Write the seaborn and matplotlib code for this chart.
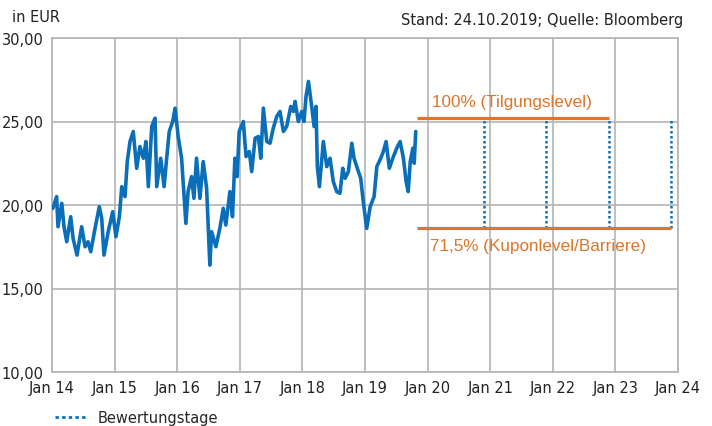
import matplotlib
matplotlib.use("Agg")
import matplotlib.pyplot as plt
from matplotlib.lines import Line2D
from matplotlib.ticker import FuncFormatter
import seaborn as sns
import pandas as pd

# ---- data ----
price_dates = [
    "2014-01-06", "2014-01-28", "2014-02-05", "2014-02-27", "2014-03-12", "2014-03-28",
    "2014-04-20", "2014-05-04", "2014-05-27", "2014-06-23", "2014-07-13", "2014-07-30",
    "2014-08-15", "2014-09-09", "2014-10-04", "2014-10-18", "2014-10-31", "2014-11-25",
    "2014-12-21", "2015-01-09", "2015-01-29", "2015-02-12", "2015-03-03", "2015-03-16",
    "2015-04-01", "2015-04-20", "2015-05-10", "2015-05-29", "2015-06-18", "2015-07-03",
    "2015-07-17", "2015-08-06", "2015-08-25", "2015-09-04", "2015-09-27", "2015-10-17",
    "2015-11-01", "2015-11-16", "2015-12-06", "2015-12-20", "2016-01-07", "2016-01-27",
    "2016-02-21", "2016-03-05", "2016-03-25", "2016-04-08", "2016-04-23", "2016-05-13",
    "2016-06-01", "2016-06-21", "2016-07-10", "2016-07-20", "2016-08-14", "2016-09-06",
    "2016-09-26", "2016-10-11", "2016-11-04", "2016-11-19", "2016-12-03", "2016-12-16",
    "2016-12-28", "2017-01-21", "2017-02-06", "2017-02-25", "2017-03-11", "2017-03-31",
    "2017-04-19", "2017-05-03", "2017-05-18", "2017-06-07", "2017-06-26", "2017-07-15",
    "2017-08-04", "2017-08-23", "2017-09-12", "2017-10-01", "2017-10-25", "2017-11-09",
    "2017-11-19", "2017-12-08", "2017-12-28", "2018-01-10", "2018-01-22", "2018-02-05",
    "2018-02-24", "2018-03-10", "2018-03-21", "2018-03-29", "2018-04-10", "2018-05-03",
    "2018-05-23", "2018-06-11", "2018-06-30", "2018-07-20", "2018-08-08", "2018-08-24",
    "2018-09-07", "2018-09-26", "2018-10-16", "2018-10-29", "2018-11-17", "2018-12-07",
    "2018-12-22", "2019-01-11", "2019-01-31", "2019-02-23", "2019-03-11", "2019-04-03",
    "2019-04-18", "2019-05-04", "2019-05-23", "2019-06-12", "2019-07-05", "2019-07-25",
    "2019-08-13", "2019-08-29", "2019-09-10", "2019-09-22", "2019-10-07", "2019-10-15",
    "2019-10-24",
]
price_values = [
    19.8, 20.5, 18.7, 20.1, 18.7, 17.8,
    19.3, 18.0, 17.0, 18.7, 17.5, 17.8,
    17.2, 18.6, 19.9, 19.2, 17.0, 18.4,
    19.6, 18.1, 19.3, 21.1, 20.5, 22.6,
    23.8, 24.4, 22.2, 23.5, 22.8, 23.8,
    21.1, 24.7, 25.2, 21.1, 22.8, 21.1,
    22.8, 24.4, 25.0, 25.8, 24.1, 22.8,
    18.9, 20.8, 21.7, 20.4, 22.8, 20.4,
    22.6, 21.0, 16.4, 18.4, 17.5, 18.6,
    19.8, 18.8, 20.8, 19.3, 22.8, 21.7,
    24.4, 25.0, 22.9, 23.2, 22.0, 24.0,
    24.1, 22.8, 25.8, 23.8, 23.7, 24.6,
    25.3, 25.6, 24.4, 24.7, 25.9, 25.6,
    26.2, 25.0, 25.6, 25.0, 26.5, 27.4,
    25.9, 24.7, 25.9, 22.3, 21.1, 23.8,
    22.3, 22.8, 21.4, 20.8, 20.7, 22.2,
    21.6, 22.0, 23.7, 22.8, 22.2, 21.6,
    20.2, 18.6, 19.9, 20.5, 22.3, 22.8,
    23.2, 23.8, 22.2, 22.8, 23.4, 23.8,
    22.8, 21.4, 20.8, 22.6, 23.4, 22.5,
    24.4,
]
valuation_dates = ["2020-11-24", "2021-11-24", "2022-11-24", "2023-11-24"]
level_start = "2019-10-31"
redemption_level = 25.18
coupon_level = 18.6
year_ticks = [f"{y}-01-01" for y in range(2014, 2025)]
year_labels = [f"Jan {y % 100}" for y in range(2014, 2025)]
y_ticks = [10, 15, 20, 25, 30]

BLUE = "#0a6fb8"
ORANGE = "#e07428"
GRID = "#b4b4b4"

sns.set_style("white")
plt.rcParams["font.family"] = ["DejaVu Sans"]

df = pd.DataFrame({"date": pd.to_datetime(price_dates), "price": price_values})

fig = plt.figure(figsize=(7.12, 4.27), dpi=100)
ax = fig.add_axes([52 / 712, 1 - 373 / 427, (678 - 52) / 712, (373 - 39) / 427])

sns.lineplot(data=df, x="date", y="price", ax=ax, color=BLUE, linewidth=2.6, zorder=3)

vd = pd.to_datetime(valuation_dates)
ls = pd.Timestamp(level_start)
ax.plot([ls, vd[2]], [redemption_level, redemption_level], color=ORANGE, lw=2.3, zorder=4,
        solid_capstyle="butt")
ax.plot([ls, vd[3]], [coupon_level, coupon_level], color=ORANGE, lw=2.3, zorder=4,
        solid_capstyle="butt")
for d in vd:
    ax.plot([d, d], [coupon_level, redemption_level], color=BLUE, lw=1.8,
            linestyle=(0, (1.0, 1.0)), zorder=3)

lab_font = ["Liberation Sans", "DejaVu Sans"]
ax.text(pd.Timestamp("2020-01-25"), redemption_level + 0.55, "100% (Tilgungslevel)",
        color=ORANGE, fontsize=12.3, family=lab_font, va="bottom", ha="left")
ax.text(pd.Timestamp("2020-01-15"), coupon_level - 0.55, "71,5% (Kuponlevel/Barriere)",
        color=ORANGE, fontsize=12.3, family=lab_font, va="top", ha="left")

ax.set_xlim(pd.Timestamp(year_ticks[0]), pd.Timestamp(year_ticks[-1]))
ax.set_ylim(10, 30)
ax.set_xticks(pd.to_datetime(year_ticks))
ax.set_xticklabels(year_labels)
ax.set_yticks(y_ticks)
ax.yaxis.set_major_formatter(FuncFormatter(lambda v, p: f"{v:.2f}".replace(".", ",")))
ax.grid(True, color=GRID, lw=1.2)
ax.set_axisbelow(True)
for s in ax.spines.values():
    s.set_color(GRID)
    s.set_linewidth(1.2)
ax.tick_params(axis="both", length=0, labelsize=10.5, colors="#222222")
ax.tick_params(axis="x", pad=6)
ax.tick_params(axis="y", pad=6)
ax.set_xlabel("")
ax.set_ylabel("")

fig.text(12 / 712, 1 - 18 / 427, "in EUR", fontsize=10.5, color="#222222", va="center", ha="left")
fig.text(683 / 712, 1 - 21 / 427, "Stand: 24.10.2019; Quelle: Bloomberg", fontsize=10.5,
         color="#222222", va="center", ha="right")

handle = Line2D([], [], color=BLUE, lw=2, linestyle=(0, (1.2, 1.2)))
fig.legend(handles=[handle], labels=["Bewertungstage"], loc="center left",
           bbox_to_anchor=(55 / 712, 1 - 419 / 427), frameon=False, fontsize=10.5,
           handlelength=2.2, handletextpad=0.7, borderaxespad=0, borderpad=0)

fig.savefig("out.png", dpi=100)
